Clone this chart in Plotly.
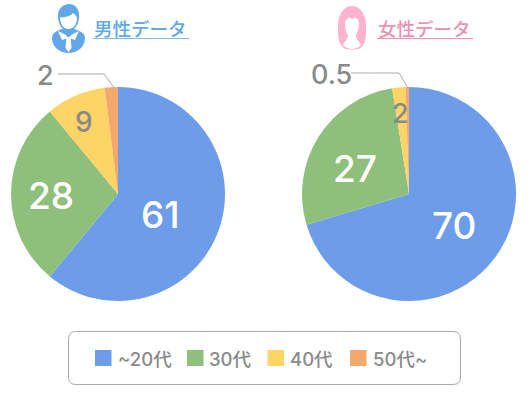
import plotly.graph_objects as go

W, H = 532, 396
categories = ["~20代", "30代", "40代", "50代~"]
male_values = [61, 28, 9, 2]
female_values = [70, 27, 2, 0.5]
colors = ["#6d9de8", "#8fc07b", "#ffd466", "#f2a96b"]
titles = ["男性データ", "女性データ"]
GRAY = "#8a8a8a"
FONT = "Inter, Noto Sans CJK JP, sans-serif"
JP = "Noto Sans CJK JP, sans-serif"


def px(x):
    return x / W


def py(y):
    return 1 - y / H


def path(d):
    out = []
    for tok in d.split():
        if "," in tok:
            a, b = tok.split(",")
            out.append(f"{px(float(a)):.5f},{py(float(b)):.5f}")
        else:
            out.append(tok)
    return " ".join(out)


def pie(values, cx):
    r = 107
    cy = 194
    return go.Pie(
        values=values, labels=categories, sort=False, direction="clockwise", rotation=0,
        marker=dict(colors=colors, line=dict(width=0)),
        textinfo="none", hoverinfo="label+value", showlegend=False,
        domain=dict(x=[px(cx - r), px(cx + r)], y=[py(cy + r), py(cy - r)]),
    )


fig = go.Figure([pie(male_values, 118), pie(female_values, 409)])

ann = []


def text(x, y, s, size, color, font=FONT, anchor="center", weight=500):
    ann.append(dict(x=px(x), y=py(y), xref="paper", yref="paper", text=s, showarrow=False,
                    xanchor=anchor, yanchor="middle",
                    font=dict(size=size, color=color, family=font, weight=weight)))


# slice labels
text(160.5, 214, str(male_values[0]), 37, "white")
text(51, 195, str(male_values[1]), 37, "white")
text(84, 122, str(male_values[2]), 28, GRAY)
text(45, 75, str(male_values[3]), 27, GRAY)
text(454, 225, str(female_values[0]), 37, "white")
text(355, 168, str(female_values[1]), 37, "white")
text(400, 113, str(female_values[2]), 27, GRAY)
text(331, 74, str(female_values[3]), 27, GRAY)

# titles
text(140.5, 28, titles[0], 18.5, "#62a8e8", JP, weight=500)
text(424.5, 28, titles[1], 18.5, "#ee92b2", JP, weight=500)

shapes = []


def line(x0, y0, x1, y1, color, width=1):
    shapes.append(dict(type="line", xref="paper", yref="paper", x0=px(x0), y0=py(y0), x1=px(x1), y1=py(y1),
                       line=dict(color=color, width=width)))


def poly(d, fill, layer="above"):
    shapes.append(dict(type="path", xref="paper", yref="paper", path=path(d), fillcolor=fill,
                       line=dict(width=0), layer=layer))


# underlines
line(93, 38.5, 189, 38.5, "#7db8ec")
line(377, 38.5, 473, 38.5, "#ee92b2")

# leader lines
shapes.append(dict(type="path", xref="paper", yref="paper", path=path("M 58,74 L 104,74 L 115,89"),
                   line=dict(color="#aaaaaa", width=1)))
shapes.append(dict(type="path", xref="paper", yref="paper", path=path("M 351,73 L 399,73 L 408,88"),
                   line=dict(color="#aaaaaa", width=1)))

# male icon
B = "#62a8e8"
poly("M 52,38 C 52,33 56,31 62,29 L 74,29 C 80,31 85,33 85,38 C 85,47 77,53 68.5,53 C 60,53 52,47 52,38 Z", B)
poly("M 58,18 C 57,9 63,4 69,4 C 75,4 80,9 79,18 C 78,26 74,31 68.5,31 C 63,31 59,26 58,18 Z", B)
poly("M 58,31 L 66,35 L 68,38 L 62,40 Z", "white")
poly("M 79,31 L 71,35 L 69,38 L 75,40 Z", "white")
poly("M 66.5,37 L 70.5,37 L 71.5,48 L 68.5,52 L 65.5,48 Z", "white")
poly("M 60,17 C 64,18 71,16 73,13 C 75,15 77,16 77,18 C 77,25 73,29 68.5,29 C 64,29 60,25 60,17 Z", "white")

# female icon
P = "#fdb2cd"
poly("M 338,30 C 337,14 344,6 352,6 C 360,6 367,14 366,30 C 366,40 365,47 358,49 C 354,50 350,50 346,49 C 340,47 338,40 338,30 Z", P)
poly("M 345,23 C 346,18 348,20 349,17 C 351,19 354,19 355,17 C 357,20 358,18 359,23 C 359,29 357,33 356,35 C 356,40 360,42 361,45 C 358,48 355,49 352,49 C 349,49 346,48 343,45 C 344,42 348,40 348,35 C 346,33 345,29 345,23 Z", "white")

# legend box
shapes.append(dict(type="path", xref="paper", yref="paper", layer="below", fillcolor="white",
                   line=dict(color="#aaaaaa", width=1), path=path(
    "M 76,331.5 L 453,331.5 Q 460.5,331.5 460.5,339 L 460.5,377 Q 460.5,384.5 453,384.5 "
    "L 76,384.5 Q 68.5,384.5 68.5,377 L 68.5,339 Q 68.5,331.5 76,331.5 Z")))

legend_x = [95, 187, 267.5, 350]
legend_text_x = [116, 207, 288, 371]
for cat, col, x, tx in zip(categories, colors, legend_x, legend_text_x):
    shapes.append(dict(type="rect", xref="paper", yref="paper", x0=px(x), x1=px(x + 16.5), y0=py(366), y1=py(350),
                       fillcolor=col, line=dict(width=0)))
    text(tx, 358.5, cat, 18.5, GRAY, FONT, "left")

fig.update_layout(width=W, height=H, margin=dict(l=0, r=0, t=0, b=0), paper_bgcolor="white",
                  shapes=shapes, annotations=ann)
fig.write_html("out.html", post_script="document.body.style.margin='0';", config={"displayModeBar": False})
